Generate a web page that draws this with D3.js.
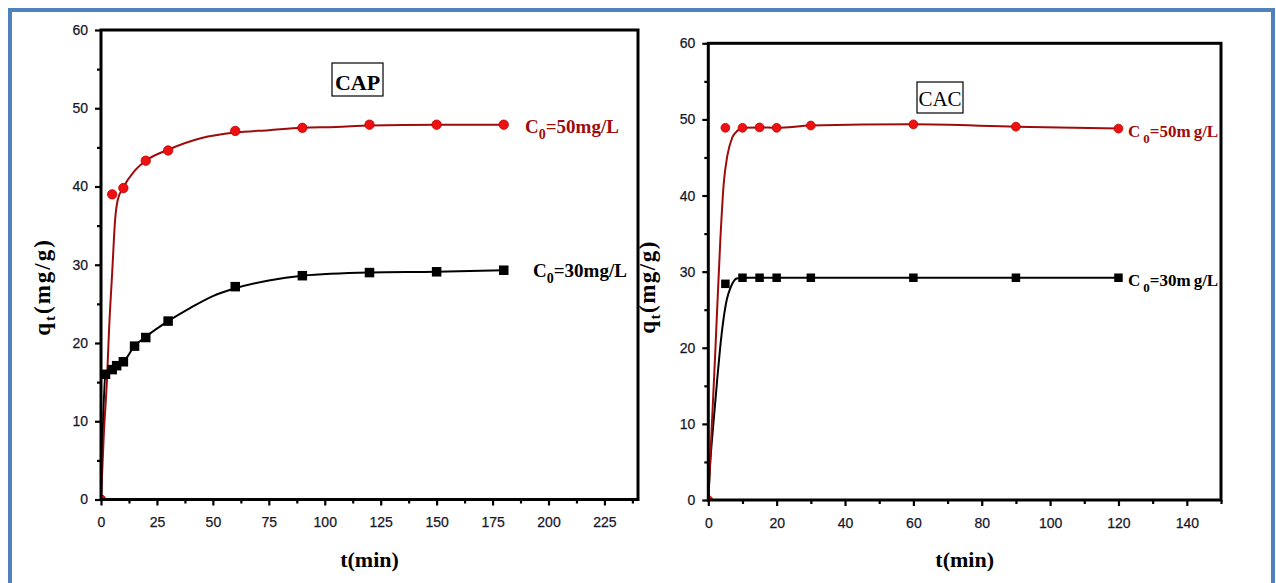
<!DOCTYPE html>
<html>
<head>
<meta charset="utf-8">
<script src="https://cdn.jsdelivr.net/npm/d3@7"></script>
<style>
  html, body { margin: 0; padding: 0; background: #ffffff; }
  svg { display: block; }
</style>
</head>
<body>
<script>
// ---- Adsorption kinetics data: q_t (mg/g) versus contact time t (min) ----

// CAP panel, C0 = 50 mg/L (measured points)
const capTime50 = [0, 5, 10, 20, 30, 60, 90, 120, 150, 180];
const capQ50    = [0, 39.0, 39.8, 43.3, 44.6, 47.1, 47.5, 47.9, 47.9, 47.9];
// CAP panel, C0 = 30 mg/L (measured points)
const capTime30 = [2, 5, 7, 10, 15, 20, 30, 60, 90, 120, 150, 180];
const capQ30    = [16.0, 16.6, 17.1, 17.6, 19.6, 20.7, 22.8, 27.2, 28.6, 29.0, 29.1, 29.3];
// CAP fitted curves
const capFitT50 = [0, 1.2, 2.7, 3.6, 5, 6.3, 7.5, 10, 15, 20, 30, 45, 60, 75, 90, 105, 120, 150, 180];
const capFitQ50 = [0, 8, 15.5, 21.7, 29, 35.7, 38.3, 39.9, 42, 43.3, 44.7, 46.2, 46.9, 47.2, 47.5, 47.6, 47.8, 47.9, 47.9];
const capFitT30 = [0, 2, 5, 7, 10, 15, 20, 30, 40, 50, 60, 75, 90, 120, 150, 180];
const capFitQ30 = [0, 16.0, 16.6, 17.1, 17.6, 19.6, 20.8, 22.8, 24.5, 26.0, 27.0, 28.0, 28.6, 29.0, 29.1, 29.3];

// CAC panel, C0 = 50 mg/L (measured points)
const cacTime50 = [0, 5, 10, 15, 20, 30, 60, 90, 120];
const cacQ50    = [0, 48.9, 48.9, 48.95, 48.9, 49.2, 49.35, 49.05, 48.8];
// CAC panel, C0 = 30 mg/L (measured points)
const cacTime30 = [5, 10, 15, 20, 30, 60, 90, 120];
const cacQ30    = [28.4, 29.2, 29.2, 29.2, 29.2, 29.2, 29.2, 29.2];
// CAC fitted curves
const cacFitT50 = [0, 2, 3.5, 4.5, 5.6, 7, 8.5, 10, 15, 20, 30, 60, 90, 120];
const cacFitQ50 = [0, 19, 34, 41.5, 45.3, 47.6, 48.5, 48.9, 48.95, 48.9, 49.2, 49.35, 49.05, 48.8];
const cacFitT30 = [0, 0.5, 1.5, 2.5, 3.4, 4.4, 5.4, 6.6, 8.3, 10, 15, 20, 30, 60, 90, 120];
const cacFitQ30 = [0, 4.4, 10.1, 15.3, 19.7, 23.6, 26.3, 28.0, 29.1, 29.2, 29.2, 29.2, 29.2, 29.2, 29.2, 29.2];

// Axis ticks
const capXMajor = [0, 25, 50, 75, 100, 125, 150, 175, 200, 225];
const capXMinor = [12.5, 37.5, 62.5, 87.5, 112.5, 137.5, 162.5, 187.5, 212.5, 237.5];
const cacXMajor = [0, 20, 40, 60, 80, 100, 120, 140];
const cacXMinor = [10, 30, 50, 70, 90, 110, 130, 150];
const yMajor = [0, 10, 20, 30, 40, 50, 60];
const yMinor = [5, 15, 25, 35, 45, 55];

// Text
const panelNames = ["CAP", "CAC"];
const seriesNames = ["50mg/L", "30mg/L"];
const xTitle = "t(min)";

const W = 1276, H = 583;
const RED_LINE = "#9e0b0b", RED_MARK = "#ee1111", TICK_TXT = "#16162a";
const SERIF = "'Liberation Serif', 'Times New Roman', serif";
const SANS = "'Liberation Sans', Arial, sans-serif";

const svg = d3.select("body").append("svg").attr("width", W).attr("height", H);
svg.append("rect").attr("width", W).attr("height", H).attr("fill", "#fff");

// outer blue frame
svg.append("rect").attr("x", 10).attr("y", 10).attr("width", 1263).attr("height", 640)
  .attr("fill", "none").attr("stroke", "#4f81bd").attr("stroke-width", 4);

function zip(a, b) { return a.map((v, i) => [v, b[i]]); }

function drawPanel(opt) {
  const x = d3.scaleLinear().domain([0, opt.xMax]).range([opt.left, opt.right]);
  const y = d3.scaleLinear().domain([0, 60]).range([opt.bottom, opt.top]);
  const g = svg.append("g");

  const clipId = "clip-" + opt.id;
  svg.append("clipPath").attr("id", clipId).append("rect")
    .attr("x", opt.left).attr("y", opt.top)
    .attr("width", opt.right - opt.left).attr("height", opt.bottom - opt.top);

  const plot = g.append("g").attr("clip-path", `url(#${clipId})`);
  const line = d3.line().x(d => x(d[0])).y(d => y(d[1])).curve(d3.curveMonotoneX);

  // fitted curves
  plot.append("path").datum(zip(opt.fitT30, opt.fitQ30)).attr("d", line)
    .attr("fill", "none").attr("stroke", "#000").attr("stroke-width", 2);
  plot.append("path").datum(zip(opt.fitT50, opt.fitQ50)).attr("d", line)
    .attr("fill", "none").attr("stroke", RED_LINE).attr("stroke-width", 2);

  // square markers, C0 = 30
  const sq = opt.sq;
  plot.selectAll(".sq").data(zip(opt.t30, opt.q30)).join("rect")
    .attr("x", d => x(d[0]) - sq / 2).attr("y", d => y(d[1]) - sq / 2)
    .attr("width", sq).attr("height", sq).attr("fill", "#000");
  // round markers, C0 = 50
  plot.selectAll(".ci").data(zip(opt.t50, opt.q50)).join("circle")
    .attr("cx", d => x(d[0])).attr("cy", d => y(d[1])).attr("r", opt.r)
    .attr("fill", RED_MARK).attr("stroke", "#c00000").attr("stroke-width", 0.8);

  // axes
  const bottomAxis = g.append("g").attr("transform", `translate(0,${opt.bottom})`)
    .call(d3.axisBottom(x).tickValues(opt.xMajor).tickSize(6).tickPadding(12).tickSizeOuter(0));
  const bottomMinor = g.append("g").attr("transform", `translate(0,${opt.bottom})`)
    .call(d3.axisBottom(x).tickValues(opt.xMinor).tickSize(4).tickFormat("").tickSizeOuter(0));
  const leftAxis = g.append("g").attr("transform", `translate(${opt.left},0)`)
    .call(d3.axisLeft(y).tickValues(yMajor).tickSize(6).tickPadding(7).tickSizeOuter(0));
  const leftMinor = g.append("g").attr("transform", `translate(${opt.left},0)`)
    .call(d3.axisLeft(y).tickValues(yMinor).tickSize(4).tickFormat("").tickSizeOuter(0));

  [bottomAxis, bottomMinor, leftAxis, leftMinor].forEach(a => {
    a.select(".domain").remove();
    a.selectAll(".tick line").attr("stroke", "#000").attr("stroke-width", 2.2);
    a.selectAll(".tick text").attr("fill", TICK_TXT)
      .attr("stroke", TICK_TXT).attr("stroke-width", 0.25)
      .style("font-family", SANS).style("font-size", "14px");
  });

  // frame of the plot area
  g.append("rect").attr("x", opt.left).attr("y", opt.top)
    .attr("width", opt.right - opt.left).attr("height", opt.bottom - opt.top)
    .attr("fill", "none").attr("stroke", "#000").attr("stroke-width", 3);

  // panel name box
  const nb = opt.nameBox;
  g.append("rect").attr("x", nb.x).attr("y", nb.y).attr("width", nb.w).attr("height", nb.h)
    .attr("fill", "#fff").attr("stroke", "#000").attr("stroke-width", 1.2);
  g.append("text").attr("x", nb.x + nb.w / 2).attr("y", nb.base).attr("text-anchor", "middle")
    .style("font-family", SERIF).style("font-size", nb.size + "px")
    .style("font-weight", nb.bold ? "bold" : "normal").attr("fill", "#000").text(opt.name);

  // series labels
  function seriesLabel(lab, color, txt) {
    const t = g.append("text").attr("x", lab.x).attr("y", lab.y).attr("fill", color)
      .style("font-family", SERIF).style("font-weight", "bold").style("font-size", lab.size + "px");
    t.append("tspan").text("C");
    t.append("tspan").attr("dx", lab.gap).attr("dy", 6).style("font-size", lab.sub + "px").text("0");
    const parts = txt.split("g/L");
    t.append("tspan").attr("dy", -6).text("=" + parts[0]);
    t.append("tspan").attr("dx", lab.gap).text("g/L");
  }
  seriesLabel(opt.lab50, RED_LINE, seriesNames[0]);
  seriesLabel(opt.lab30, "#000", seriesNames[1]);

  // axis titles
  g.append("text").attr("x", (opt.left + opt.right) / 2).attr("y", 567).attr("text-anchor", "middle")
    .style("font-family", SERIF).style("font-weight", "bold").style("font-size", "22px")
    .attr("fill", "#000").text(xTitle);

  const yt = g.append("text").attr("transform", `translate(${opt.yTitleX},287) rotate(-90)`)
    .attr("text-anchor", "middle").attr("fill", "#000")
    .style("font-family", SERIF).style("font-weight", "bold").style("font-size", "23px")
    .style("letter-spacing", opt.yTitleSpacing + "px");
  yt.append("tspan").text("q");
  yt.append("tspan").attr("dy", 5).style("font-size", "15px").text("t");
  yt.append("tspan").attr("dy", -5).text("(mg/g)");
}

drawPanel({
  id: "cap", name: panelNames[0], xMax: 240,
  left: 101, right: 638, top: 30, bottom: 499.5,
  t50: capTime50, q50: capQ50, t30: capTime30, q30: capQ30,
  fitT50: capFitT50, fitQ50: capFitQ50, fitT30: capFitT30, fitQ30: capFitQ30,
  xMajor: capXMajor, xMinor: capXMinor, sq: 9.5, r: 4.7,
  nameBox: { x: 332, y: 63, w: 51, h: 33, base: 89.5, size: 22, bold: true },
  lab50: { x: 525, y: 133, size: 19, sub: 14, gap: 0 },
  lab30: { x: 533, y: 277, size: 19, sub: 14, gap: 0 },
  yTitleX: 50, yTitleSpacing: 2
});

drawPanel({
  id: "cac", name: panelNames[1], xMax: 150,
  left: 708.3, right: 1221, top: 43.3, bottom: 500,
  t50: cacTime50, q50: cacQ50, t30: cacTime30, q30: cacQ30,
  fitT50: cacFitT50, fitQ50: cacFitQ50, fitT30: cacFitT30, fitQ30: cacFitQ30,
  xMajor: cacXMajor, xMinor: cacXMinor, sq: 8.5, r: 4.4,
  nameBox: { x: 917, y: 82, w: 46, h: 31, base: 106, size: 21, bold: false },
  lab50: { x: 1128, y: 137, size: 17, sub: 13, gap: 3 },
  lab30: { x: 1128, y: 286, size: 17, sub: 13, gap: 3 },
  yTitleX: 655, yTitleSpacing: 1.5
});
</script>
</body>
</html>
